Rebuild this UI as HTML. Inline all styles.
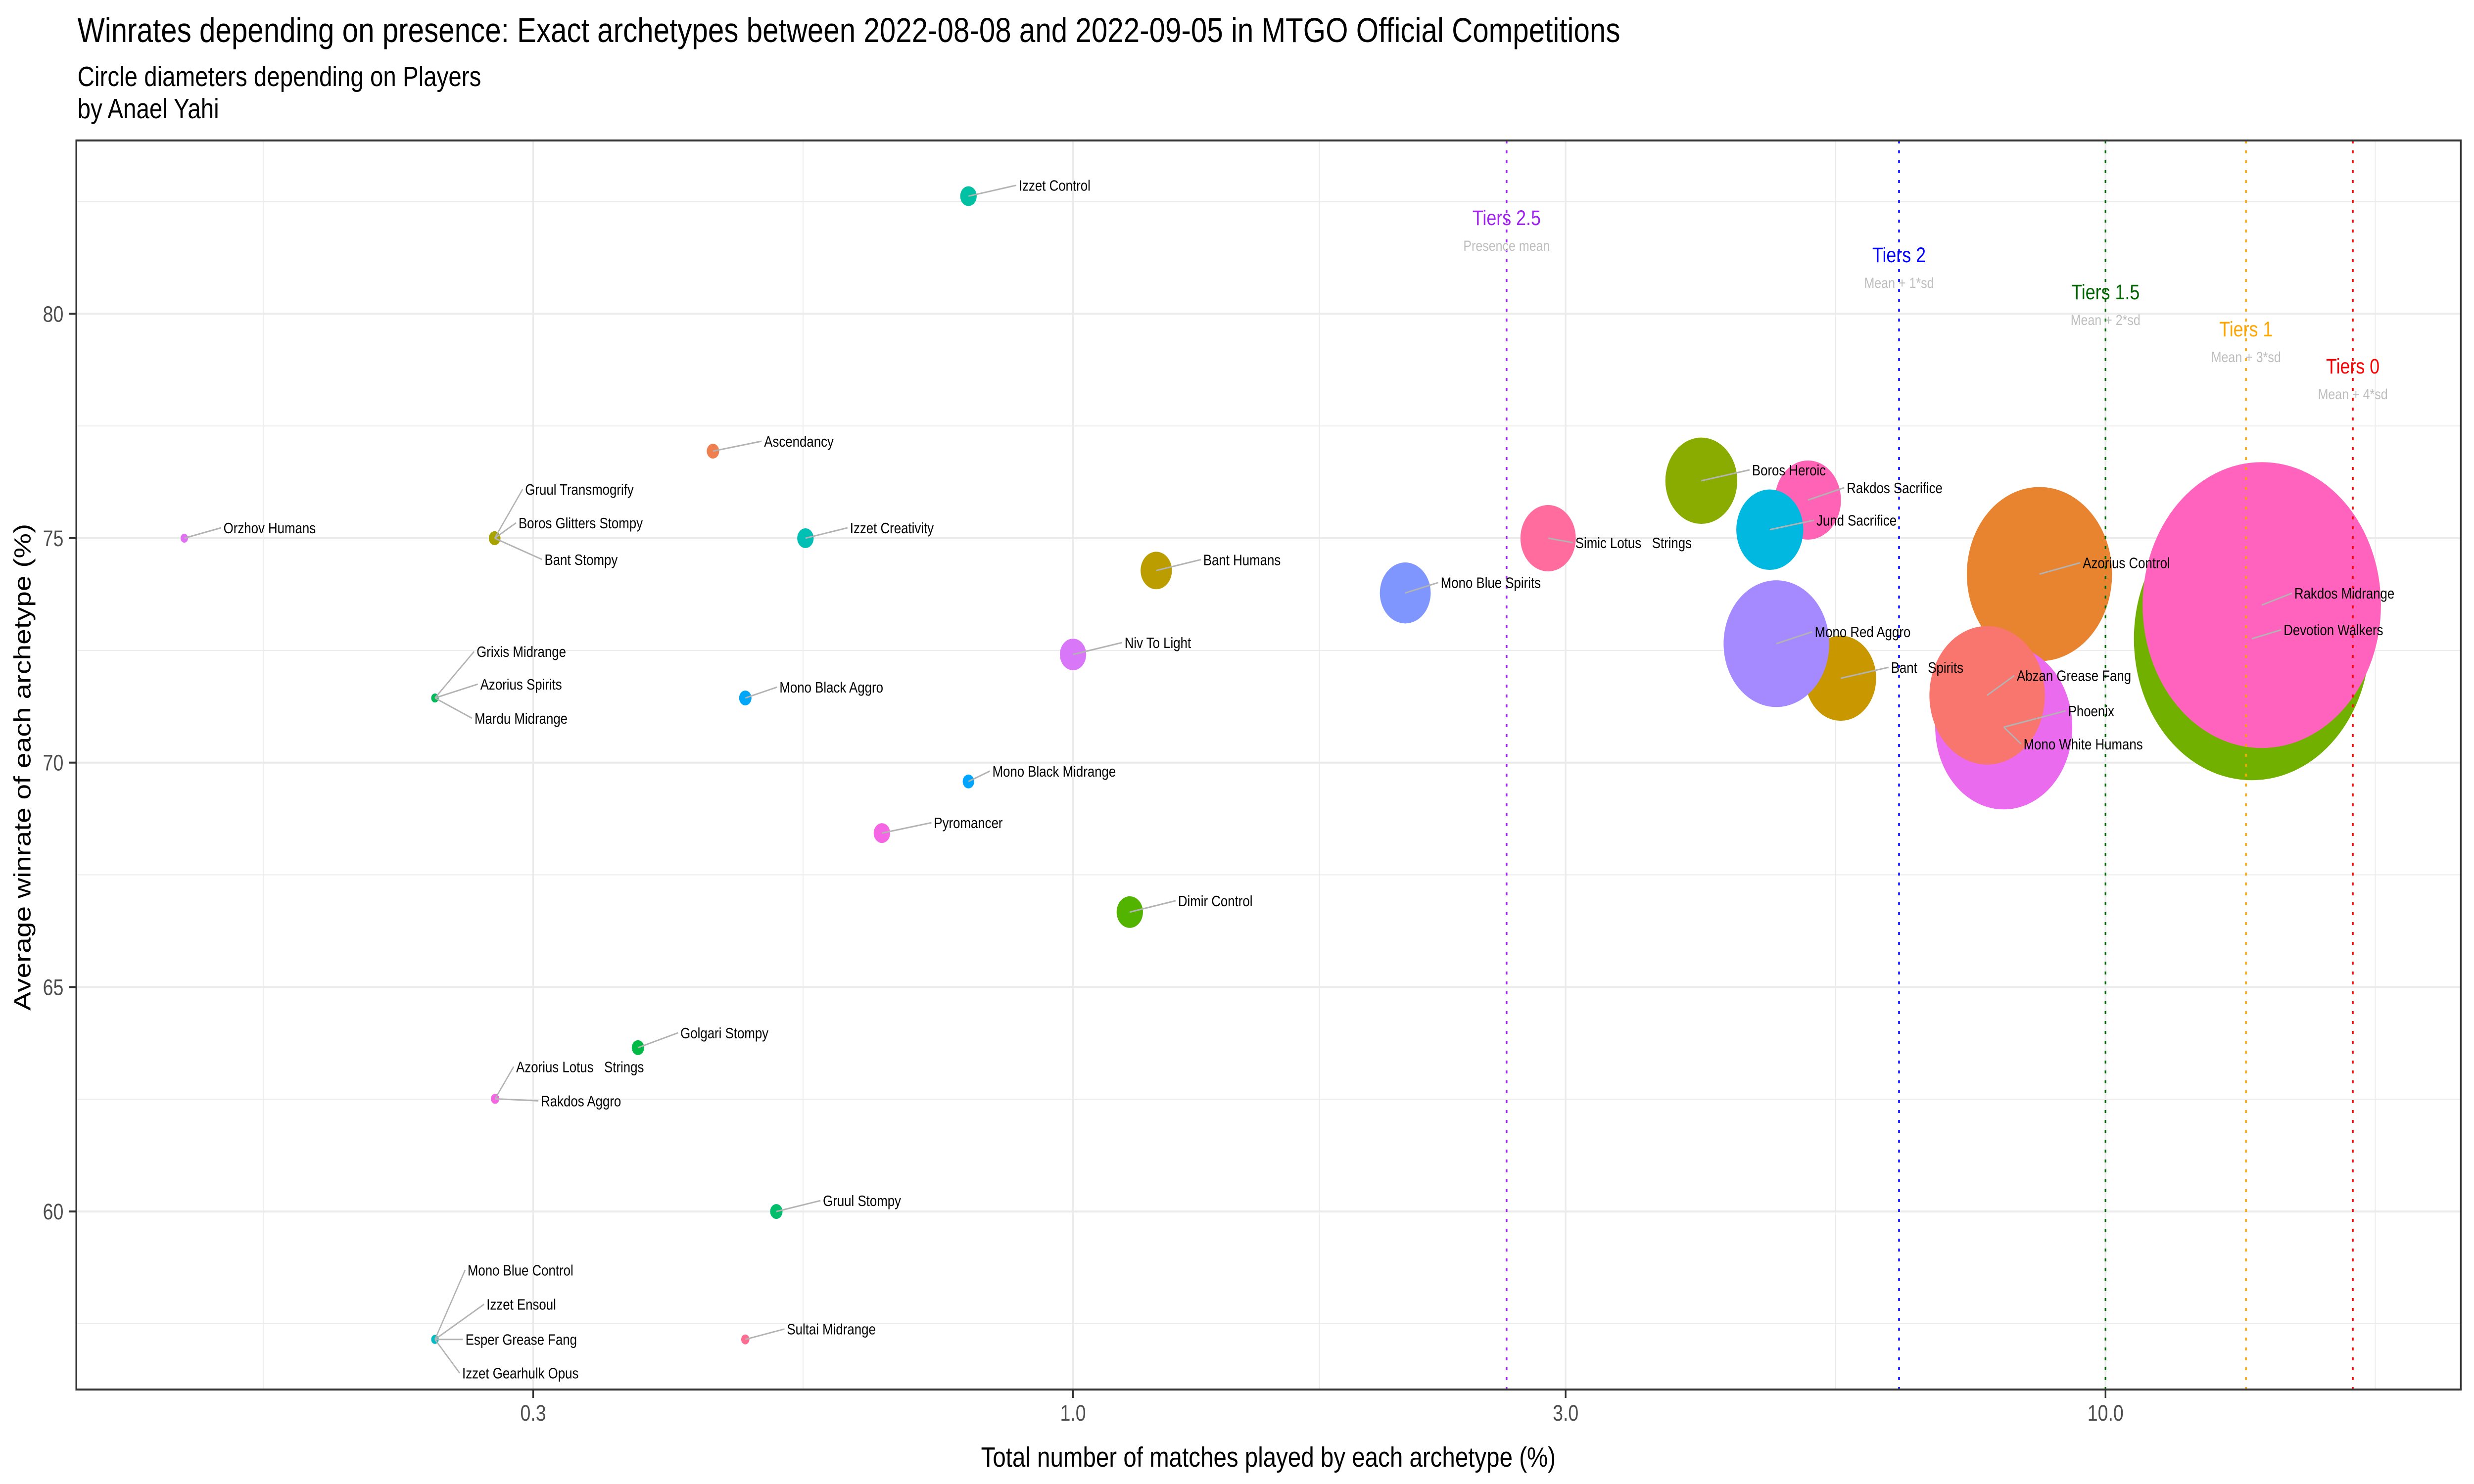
<!DOCTYPE html>
<html><head><meta charset="utf-8"><style>
html,body{margin:0;padding:0;background:#fff;width:100%;height:100%;overflow:hidden;}
svg{display:block;font-family:"Liberation Sans",Arial,sans-serif;width:100vw;height:100vh;}
</style></head><body>
<svg id="chart" viewBox="0 0 6000 3000" preserveAspectRatio="none" xmlns="http://www.w3.org/2000/svg">
<rect x="0" y="0" width="6000" height="3000" fill="#ffffff"/>
<text x="188" y="85" font-size="70" fill="#000">Winrates depending on presence: Exact archetypes  between 2022-08-08 and 2022-09-05 in MTGO Official Competitions</text>
<text x="188" y="174" font-size="57" fill="#000">Circle diameters depending on Players</text>
<text x="188" y="239" font-size="57" fill="#000">by Anael Yahi</text>
<g id="grid"></g>
<g id="points"></g>
<g id="vlines"></g>
<g id="labels"></g>
<g id="tiers"></g>
<g id="axes"></g>
<text x="3076" y="2965" font-size="57" text-anchor="middle" fill="#000">Total number of matches played by each archetype (%)</text>
<text transform="translate(74,1551) rotate(-90)" font-size="57" text-anchor="middle" fill="#000">Average winrate of each archetype (%)</text>
</svg>
<script>
// ---- data ----
const archetypes = ["Izzet Control","Ascendancy","Orzhov Humans","Gruul Transmogrify","Boros Glitters Stompy","Bant Stompy","Izzet Creativity","Bant Humans","Niv To Light","Grixis Midrange","Azorius Spirits","Mardu Midrange","Mono Black Aggro","Mono Black Midrange","Pyromancer","Dimir Control","Golgari Stompy","Azorius Lotus   Strings","Rakdos Aggro","Gruul Stompy","Mono Blue Control","Izzet Ensoul","Esper Grease Fang","Izzet Gearhulk Opus","Sultai Midrange","Mono Blue Spirits","Simic Lotus   Strings","Boros Heroic","Rakdos Sacrifice","Jund Sacrifice","Bant   Spirits","Mono Red Aggro","Azorius Control","Mono White Humans","Phoenix","Abzan Grease Fang","Devotion Walkers","Rakdos Midrange"];
const presence = [0.792,0.448,0.1378,0.2753,0.2753,0.2753,0.5506,1.204,1.0,0.241,0.241,0.241,0.4815,0.792,0.653,1.135,0.379,0.2756,0.2756,0.516,0.241,0.241,0.241,0.241,0.4815,2.098,2.885,4.06,5.15,4.73,5.54,4.80,8.63,7.97,7.97,7.68,13.86,14.17];
const winrate = [82.62,76.94,75.0,75.0,75.0,75.0,75.0,74.28,72.41,71.44,71.44,71.44,71.44,69.58,68.43,66.67,63.65,62.51,62.51,60.0,57.15,57.15,57.15,57.15,57.15,73.78,75.0,76.28,75.85,75.19,71.88,72.65,74.2,70.79,70.79,71.5,72.76,73.51];
const players = [4,2.25,0.81,1.96,1.96,1.96,4,14.4,10.2,0.81,0.81,0.81,2.25,1.96,4,10.2,2.25,1,1,2.25,0.81,0.81,0.81,0.81,1,38,45,76,64,66,74,164,310,276,276,196,818,835];
const colors = ["#00C1A3","#EF7F4F","#E36EF6","#A8A300","#A8A300","#A8A300","#00BFB5","#BB9D00","#D877F8","#00BA5A","#00BA5A","#00BA5A","#00A7F8","#00A5FF","#F566E5","#53B400","#00BA46","#F564E3","#F564E3","#00BE6C","#00BCC4","#00BCC4","#00BCC4","#00BCC4","#FF6C91","#7F96FF","#FF6C9D","#8AAB00","#FF63B6","#00B8E0","#C99800","#A58AFF","#E8832F","#EB6BEE","#EB6BEE","#F8766D","#72B000","#FF63BE"];
// label anchor offsets (layout, px)
const labelDX = [122,124,95,74,58,121,108,114,125,101,110,96,83,58,126,117,103,51,111,113,79,125,74,66,101,86,66,123,94,113,122,93,105,48,156,72,77,79];
const labelDY = [-11,-9,-10,-88,-20,54,-10,-11,-13,-83,-17,52,-11,-10,-10,-12,-19,-54,15,-11,-129,-60,11,79,-10,-10,20,-11,-14,-8,-11,-13,-12,45,-22,-29,-7,-13];
const xMajor = [0.3,1,3,10];
const xMajorLabels = ["0.3","1.0","3.0","10.0"];
const xMinor = [0.1643,0.5477,1.732,5.477,18.25];
const yMajor = [60,65,70,75,80];
const yMinor = [57.5,62.5,67.5,72.5,77.5,82.5];
const tierValues = [2.63,6.31,10.0,13.68,17.36];
const tierNames = ["Tiers 2.5","Tiers 2","Tiers 1.5","Tiers 1","Tiers 0"];
const tierSubs = ["Presence mean","Mean + 1*sd","Mean + 2*sd","Mean + 3*sd","Mean + 4*sd"];
const tierColors = ["#A020F0","#0000FF","#006400","#FFA500","#FF0000"];

// ---- scales ----
const PL=185, PR=5968, PT=284, PB=2809;
function xs(v){ return 2602.3 + Math.log10(v)*2504; }
function ys(v){ return 1088 - (v-75)*90.74; }
function rs(p){ return Math.sqrt(p)*10; }
const NS="http://www.w3.org/2000/svg";
function mk(tag, attrs, parent){ const e=document.createElementNS(NS,tag); for(const k in attrs) e.setAttribute(k,attrs[k]); parent.appendChild(e); return e; }

const grid=document.getElementById('grid');
xMinor.forEach(v=>{ const l=mk('line',{x1:xs(v),x2:xs(v),y1:PT,y2:PB,stroke:'#EBEBEB','stroke-width':2},grid);

 });
yMinor.forEach(v=>{ const l=mk('line',{x1:PL,x2:PR,y1:ys(v),y2:ys(v),stroke:'#EBEBEB','stroke-width':2},grid);

 });
xMajor.forEach(v=>{ const l=mk('line',{x1:xs(v),x2:xs(v),y1:PT,y2:PB,stroke:'#EBEBEB','stroke-width':4},grid);

 });
yMajor.forEach(v=>{ const l=mk('line',{x1:PL,x2:PR,y1:ys(v),y2:ys(v),stroke:'#EBEBEB','stroke-width':4},grid);

 });

const pts=document.getElementById('points');
archetypes.forEach((a,i)=>{
  const c=mk('circle',{cx:xs(presence[i]),cy:ys(winrate[i]),r:rs(players[i]),fill:colors[i]},pts);
  
  
});

const vl=document.getElementById('vlines');
tierValues.forEach((v,i)=>{
  const l=mk('line',{x1:xs(v),x2:xs(v),y1:PT,y2:PB,stroke:tierColors[i],'stroke-width':4,'stroke-dasharray':'6 14'},vl);
  
  
});

const lab=document.getElementById('labels');
archetypes.forEach((a,i)=>{
  const px=xs(presence[i]), py=ys(winrate[i]);
  const lx=px+labelDX[i], by=py+labelDY[i];
  const s=mk('line',{x1:px,y1:py,x2:lx-6,y2:by-11,stroke:'#B3B3B3','stroke-width':3},lab);
  
  
  const t=mk('text',{x:lx,y:by,'font-size':31,fill:'#000'},lab);
  t.style.whiteSpace='pre';
  t.textContent=a;
  
  
});

const tg=document.getElementById('tiers');
tierValues.forEach((v,i)=>{
  const by=455+i*75;
  const t=mk('text',{x:xs(v),y:by,'font-size':43,fill:tierColors[i],'text-anchor':'middle'},tg);
  t.textContent=tierNames[i];
  
  
  const s=mk('text',{x:xs(v),y:by+52,'font-size':30,fill:'#BEBEBE','text-anchor':'middle'},tg);
  s.textContent=tierSubs[i];
  
  
});

const ax=document.getElementById('axes');
const border=mk('rect',{x:PL,y:PT,width:PR-PL,height:PB-PT,fill:'none',stroke:'#333333','stroke-width':4},ax);


xMajor.forEach((v,i)=>{
  const tk=mk('line',{x1:xs(v),x2:xs(v),y1:PB,y2:PB+17,stroke:'#333333','stroke-width':4},ax);
  
  
  const t=mk('text',{x:xs(v),y:2872,'font-size':45,fill:'#4D4D4D','text-anchor':'middle'},ax);
  t.textContent=xMajorLabels[i];
  
  
});
yMajor.forEach(v=>{
  const tk=mk('line',{x1:PL-17,x2:PL,y1:ys(v),y2:ys(v),stroke:'#333333','stroke-width':4},ax);
  
  
  const t=mk('text',{x:154,y:ys(v)+16,'font-size':45,fill:'#4D4D4D','text-anchor':'end'},ax);
  t.textContent=String(v);
  
  
});
</script>
</body></html>
